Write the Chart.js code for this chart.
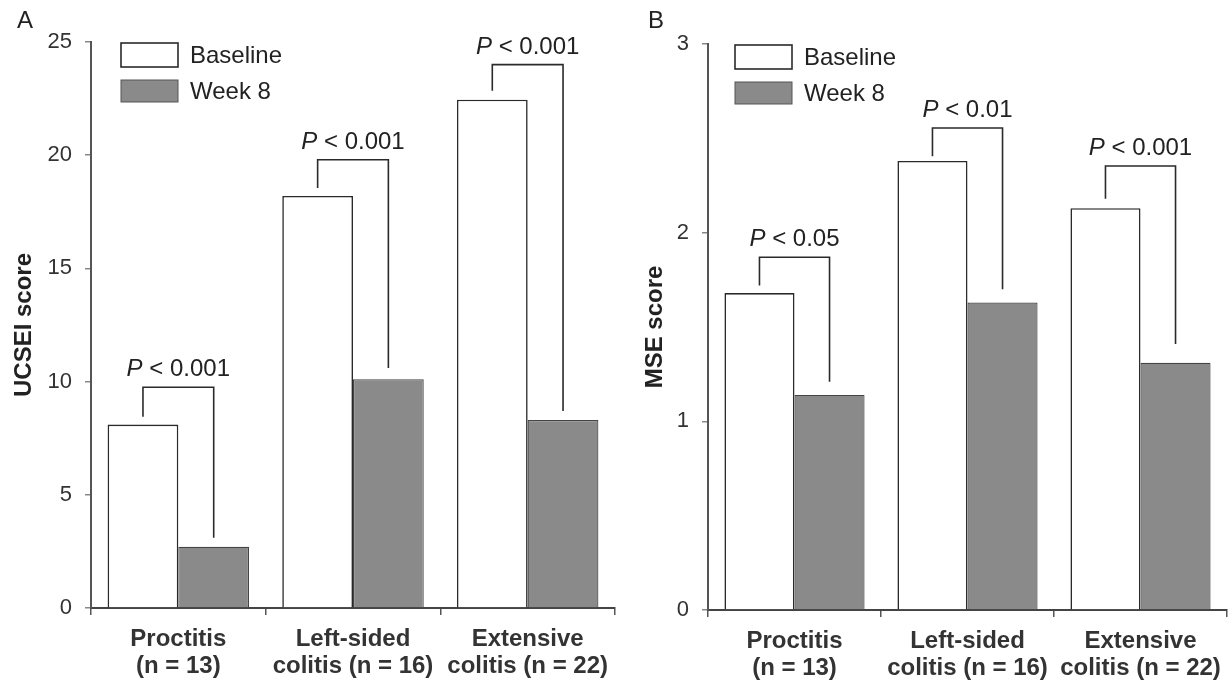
<!DOCTYPE html>
<html>
<head>
<meta charset="utf-8">
<script src="https://cdn.jsdelivr.net/npm/chart.js@4"></script>
<style>
  html, body { margin: 0; padding: 0; background: #fff; }
  .panel { position: absolute; top: 0; width: 616px; height: 684px; }
</style>
</head>
<body>
<div class="panel" style="left:0"><canvas id="chartA"></canvas></div>
<div class="panel" style="left:616px"><canvas id="chartB"></canvas></div>
<script>
// ---- data ----
const categories = [['Proctitis', '(n = 13)'], ['Left-sided', 'colitis (n = 16)'], ['Extensive', 'colitis (n = 22)']];
const seriesNames = ['Baseline', 'Week 8'];

const ucseiBaseline = [8.1, 18.2, 22.45];
const ucseiWeek8 = [2.7, 10.1, 8.3];
const ucseiTicks = [0, 5, 10, 15, 20, 25];
const ucseiP = ['0.001', '0.001', '0.001'];
const ucseiBracketTop = [9.75, 19.8, 24.0];
const ucseiBracketLeftEnd = [8.45, 18.55, 22.85];
const ucseiBracketRightEnd = [3.1, 10.6, 8.7];

const mseBaseline = [1.68, 2.38, 2.13];
const mseWeek8 = [1.14, 1.63, 1.31];
const mseTicks = [0, 1, 2, 3];
const mseP = ['0.05', '0.01', '0.001'];
const mseBracketTop = [1.87, 2.555, 2.353];
const mseBracketLeftEnd = [1.72, 2.405, 2.18];
const mseBracketRightEnd = [1.21, 1.70, 1.41];

// ---- styling ----
const FONT = '"Liberation Sans", Arial, Helvetica, sans-serif';
const INK = '#222';
const WEEK_FILL = '#8a8a8a';

function annotations(cfg) {
  return {
    id: 'annot' + cfg.letter,
    afterDatasetsDraw(chart) {
      const ctx = chart.ctx;
      const y = chart.scales.y;
      const ca = chart.chartArea;
      const m0 = chart.getDatasetMeta(0).data;
      const m1 = chart.getDatasetMeta(1).data;
      ctx.save();
      ctx.strokeStyle = '#2a2a2a';
      ctx.lineWidth = 1.6;
      ctx.fillStyle = INK;
      for (let i = 0; i < m0.length; i++) {
        const xl = m0[i].x, xr = m1[i].x;
        const yt = y.getPixelForValue(cfg.top[i]);
        ctx.beginPath();
        ctx.moveTo(xl, y.getPixelForValue(cfg.leftEnd[i]));
        ctx.lineTo(xl, yt);
        ctx.lineTo(xr, yt);
        ctx.lineTo(xr, y.getPixelForValue(cfg.rightEnd[i]));
        ctx.stroke();
        // P label
        const fontSize = 24;
        const pFont = 'italic ' + fontSize + 'px ' + FONT;
        const rFont = fontSize + 'px ' + FONT;
        const rest = ' < ' + cfg.p[i];
        ctx.font = pFont; const wP = ctx.measureText('P').width;
        ctx.font = rFont; const wR = ctx.measureText(rest).width;
        const xs = (xl + xr) / 2 - (wP + wR) / 2;
        const yb = yt - 11;
        ctx.textBaseline = 'alphabetic';
        ctx.textAlign = 'left';
        ctx.font = pFont; ctx.fillText('P', xs, yb);
        ctx.font = rFont; ctx.fillText(rest, xs + wP, yb);
      }
      // legend
      const bx = ca.left + cfg.legendOffset;
      const by = ca.top;
      ctx.lineWidth = 1.6;
      ctx.strokeStyle = '#2a2a2a';
      ctx.fillStyle = '#fff';
      ctx.fillRect(bx, by + 1, 57, 24);
      ctx.strokeRect(bx, by + 1, 57, 24);
      ctx.fillStyle = WEEK_FILL;
      ctx.fillRect(bx, by + 38, 57, 22);
      ctx.strokeStyle = '#555';
      ctx.lineWidth = 1;
      ctx.strokeRect(bx, by + 38, 57, 22);
      ctx.fillStyle = INK;
      ctx.font = '24px ' + FONT;
      ctx.textBaseline = 'middle';
      ctx.fillText(seriesNames[0], bx + 69, by + 14);
      ctx.fillText(seriesNames[1], bx + 69, by + 50);
      // panel letter
      ctx.font = '24px ' + FONT;
      ctx.fillText(cfg.letter, cfg.letterX, 21);
      ctx.restore();
    }
  };
}

function makeChart(id, cfg) {
  return new Chart(document.getElementById(id), {
    type: 'bar',
    data: {
      labels: categories,
      datasets: [
        { label: seriesNames[0], data: cfg.base, backgroundColor: '#fff', borderColor: '#2a2a2a', borderWidth: 1.6 },
        { label: seriesNames[1], data: cfg.week, backgroundColor: WEEK_FILL, borderColor: '#444', borderWidth: 1.2 }
      ]
    },
    options: {
      responsive: true,
      maintainAspectRatio: false,
      animation: false,
      events: [],
      layout: { padding: { top: cfg.padTop, right: cfg.padRight, left: 0, bottom: 0 } },
      categoryPercentage: 0.81,
      barPercentage: 1.0,
      plugins: { legend: { display: false }, tooltip: { enabled: false } },
      scales: {
        x: {
          grid: { display: true, drawOnChartArea: false, drawTicks: true, tickLength: 7, color: '#555', lineWidth: 1.5 },
          border: { display: true, color: '#444', width: 2 },
          ticks: { color: '#333', padding: 11, font: { family: FONT, size: 24, weight: 'bold', lineHeight: '27px' } },
          afterFit(s) { s.height = cfg.xHeight; s.paddingLeft = 0; s.paddingRight = 0; }
        },
        y: {
          min: 0, max: cfg.max,
          afterBuildTicks(s) { s.ticks = cfg.ticks.map(v => ({ value: v })); },
          grid: { display: true, drawOnChartArea: false, drawTicks: true, tickLength: 6, color: '#888', lineWidth: 1.5 },
          border: { display: true, color: '#555', width: 2 },
          ticks: { color: '#333', padding: 13, font: { family: FONT, size: 22 } },
          title: { display: true, text: cfg.title, color: INK, padding: { top: cfg.titlePad, bottom: 0 }, font: { family: FONT, size: 24, weight: 'bold' } },
          afterFit(s) { s.width = cfg.yWidth; s.paddingTop = 0; s.paddingBottom = 0; }
        }
      }
    },
    plugins: [annotations(cfg)]
  });
}

makeChart('chartA', {
  letter: 'A', letterX: 17, base: ucseiBaseline, week: ucseiWeek8, max: 25, ticks: ucseiTicks,
  title: 'UCSEI score', titlePad: 10, yWidth: 91, xHeight: 76, padTop: 42, padRight: 1,
  p: ucseiP, top: ucseiBracketTop, leftEnd: ucseiBracketLeftEnd, rightEnd: ucseiBracketRightEnd, legendOffset: 30
});
makeChart('chartB', {
  letter: 'B', letterX: 32, base: mseBaseline, week: mseWeek8, max: 3, ticks: mseTicks,
  title: 'MSE score', titlePad: 25, yWidth: 92, xHeight: 74, padTop: 44, padRight: 5,
  p: mseP, top: mseBracketTop, leftEnd: mseBracketLeftEnd, rightEnd: mseBracketRightEnd, legendOffset: 27
});
</script>
</body>
</html>
